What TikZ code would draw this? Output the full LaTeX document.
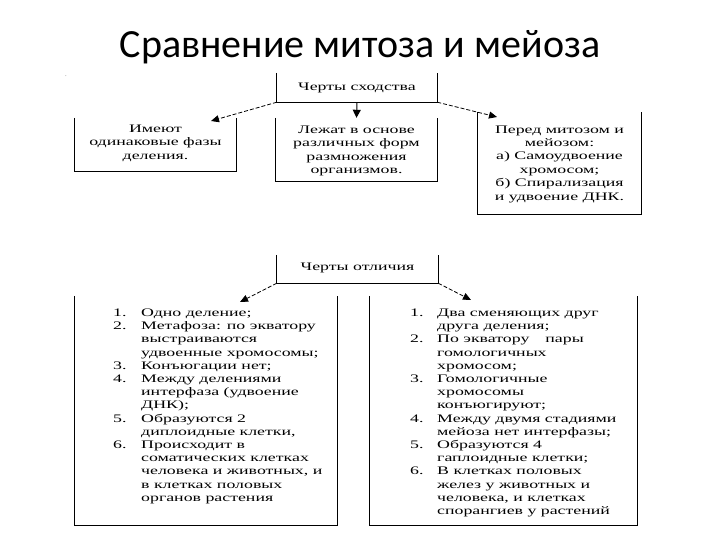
\documentclass[tikz,border=0pt]{standalone}
\usepackage{fontspec}
\setmainfont{Liberation Serif}
\newfontfamily\titlefont{Carlito}
\newfontfamily\scanfont[FakeStretch=1.55]{Liberation Serif}
\usetikzlibrary{arrows.meta}
\begin{document}
\begin{tikzpicture}[x=1pt,y=-1pt,
  frame/.style={draw=black, line width=1.2pt},
  boxshape/.style={rectangle, draw=none, inner sep=0pt},
  txt/.style={inner sep=0pt, align=center, font=\scanfont\fontsize{11.5}{13.4}\selectfont},
  listtxt/.style={inner sep=0pt, anchor=north west, font=\scanfont\fontsize{11.5}{13.2}\selectfont},
  dasharrow/.style={draw=black, line width=0.8pt, dash pattern=on 4pt off 2pt, -{Triangle[length=8pt,width=7pt]}},
  solidarrow/.style={draw=black, line width=1pt, -{Triangle[length=8pt,width=8pt]}}
]
\useasboundingbox (0,0) rectangle (720,540);
\fill[white] (0,0) rectangle (720,540);

\node[font=\titlefont\fontsize{40}{44}\selectfont, anchor=base] (title) at (360,58) {Сравнение митоза и мейоза};
\node[font=\fontsize{5}{6}\selectfont, inner sep=0pt] (mark) at (66,76) {.};

% similarity part
\node[boxshape, minimum width=160pt, minimum height=29pt] (H1) at (357,87.5) {};
\node[txt] (H1t) at (357,88) {Черты сходства};
\node[boxshape, minimum width=161pt, minimum height=53pt] (A) at (155.5,144.5) {};
\node[txt] (At) at (155.5,143) {Имеют\\одинаковые фазы\\деления.};
\node[boxshape, minimum width=161pt, minimum height=63pt] (B) at (356.5,149.5) {};
\node[txt] (Bt) at (356.5,151) {Лежат в основе\\различных форм\\размножения\\организмов.};
\node[boxshape, minimum width=163pt, minimum height=102pt] (C) at (559.5,163) {};
\node[txt] (Ct) at (559.5,164) {Перед митозом и\\мейозом:\\а) Самоудвоение\\хромосом;\\б) Спирализация\\и удвоение ДНК.};

\foreach \b in {H1,A,B,C}{
  \draw[frame] (\b.north west) -- (\b.south west) -- (\b.south east) -- (\b.north east);
}

\coordinate (tA) at (211,121);
\coordinate (tC) at (497,117);
\draw[dasharrow] (H1.south west) -- (tA);
\draw[solidarrow] (H1.south) -- (B.north);
\draw[dasharrow] (H1.south east) -- (tC);

% difference part
\node[boxshape, minimum width=161pt, minimum height=28pt] (H2) at (357.5,269) {};
\node[txt] (H2t) at (357.5,268) {Черты отличия};
\node[boxshape, minimum width=262pt, minimum height=229pt] (D) at (206,410.5) {};
\node[boxshape, minimum width=267pt, minimum height=229pt] (E) at (503.5,410.5) {};
\foreach \b in {H2,D,E}{
  \draw[frame] (\b.north west) -- (\b.south west) -- (\b.south east) -- (\b.north east);
}

\coordinate (tD) at (240,302);
\coordinate (tE) at (471,300);
\draw[dasharrow] (H2.south west) -- (tD);
\draw[dasharrow] (H2.south east) -- (tE);

\node[listtxt] (Dl) at (113,307) {%
\begin{tabular}{@{}p{28pt}@{}l@{}}
1. & Одно деление;\\
2. & Метафоза: по экватору\\
   & выстраиваются\\
   & удвоенные хромосомы;\\
3. & Конъюгации нет;\\
4. & Между делениями\\
   & интерфаза (удвоение\\
   & ДНК);\\
5. & Образуются 2\\
   & диплоидные клетки,\\
6. & Происходит в\\
   & соматических клетках\\
   & человека и животных, и\\
   & в клетках половых\\
   & органов растения\\
\end{tabular}};

\node[listtxt] (El) at (410,307) {%
\begin{tabular}{@{}p{27pt}@{}l@{}}
1. & Два сменяющих друг\\
   & друга деления;\\
2. & По экватору \quad пары\\
   & гомологичных\\
   & хромосом;\\
3. & Гомологичные\\
   & хромосомы\\
   & конъюгируют;\\
4. & Между двумя стадиями\\
   & мейоза нет интерфазы;\\
5. & Образуются 4\\
   & гаплоидные клетки;\\
6. & В клетках половых\\
   & желез у животных и\\
   & человека, и клетках\\
   & спорангиев у растений\\
\end{tabular}};
\end{tikzpicture}
\end{document}
